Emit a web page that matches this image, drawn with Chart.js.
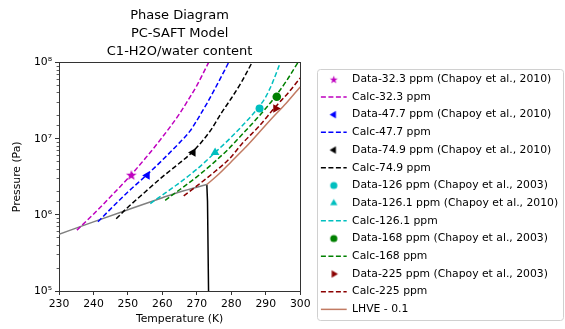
<!DOCTYPE html>
<html>
<head>
<meta charset="utf-8">
<script src="https://cdn.jsdelivr.net/npm/chart.js@4.4.1/dist/chart.umd.min.js"></script>
<style>
  html, body { margin: 0; padding: 0; background: #fff; }
</style>
</head>
<body>
<canvas id="myChart" width="565" height="329"></canvas>
<script>
// measured points (T in K, P in Pa)
const data32T = [251.0];
const data32P = [3.35e6];
const data47T = [255.6];
const data47P = [3.3e6];
const data74T = [268.9];
const data74P = [6.6e6];
const data126T = [288.2];
const data126P = [2.5e7];
const data1261T = [275.3];
const data1261P = [6.6e6];
const data168T = [293.2];
const data168P = [3.57e7];
const data225T = [292.9];
const data225P = [2.5e7];

// calculated curves
const calc32T = [235.2, 240, 245, 250, 255, 260, 265, 267.5, 270, 273.4];
const calc32P = [6.3e5, 1.02e6, 1.74e6, 3.02e6, 5.5e6, 1.05e7, 2.14e7, 3.24e7, 5.0e7, 1e8];
const calc47T = [241.3, 245, 250, 255.6, 260, 265, 268, 270, 273, 276, 279.2];
const calc47P = [8.1e5, 1.2e6, 2.0e6, 3.39e6, 5.25e6, 8.9e6, 1.26e7, 1.74e7, 2.95e7, 5.25e7, 1e8];
const calc74T = [246.6, 250, 255, 260, 265, 269, 274, 277, 279.7, 283, 286];
const calc74P = [8.9e5, 1.26e6, 2.0e6, 3.16e6, 4.8e6, 6.9e6, 1.29e7, 2.14e7, 3.24e7, 5.6e7, 1e8];
const calc126T = [256.5, 260, 264, 270, 275.3, 280, 284, 286, 288.2, 290, 292, 294.2];
const calc126P = [1.41e6, 1.82e6, 2.45e6, 3.98e6, 6.6e6, 1.05e7, 1.62e7, 2.04e7, 2.69e7, 3.55e7, 5.5e7, 1e8];
const calc168T = [260.8, 265, 270, 275, 279, 283, 287.9, 292.7, 296, 299.3];
const calc168P = [1.55e6, 2.14e6, 3.16e6, 4.9e6, 7.2e6, 1.12e7, 1.95e7, 3.55e7, 5.75e7, 1e8];
const calc225T = [266.2, 270, 275, 279.7, 283, 288, 292.8, 296.5, 300];
const calc225P = [1.78e6, 2.4e6, 3.63e6, 5.6e6, 8.5e6, 1.45e7, 2.63e7, 4.0e7, 6.3e7];
const lhveT = [272.9, 276, 280, 284, 288, 292, 296, 300];
const lhveP = [2.51e6, 3.31e6, 5.0e6, 7.6e6, 1.2e7, 1.9e7, 2.95e7, 4.8e7];
const greyT = [230, 240, 250, 260, 265, 272.9];
const greyP = [5.56e5, 8.1e5, 1.17e6, 1.68e6, 2.0e6, 2.51e6];
const iceT = [272.9, 273.1, 273.4];
const iceP = [2.51e6, 1.5e6, 1e5];

const xTicks = [230, 240, 250, 260, 270, 280, 290, 300];

const legendLabels = [
  'Data-32.3 ppm (Chapoy et al., 2010)', 'Calc-32.3 ppm',
  'Data-47.7 ppm (Chapoy et al., 2010)', 'Calc-47.7 ppm',
  'Data-74.9 ppm (Chapoy et al., 2010)', 'Calc-74.9 ppm',
  'Data-126 ppm (Chapoy et al., 2003)', 'Data-126.1 ppm (Chapoy et al., 2010)', 'Calc-126.1 ppm',
  'Data-168 ppm (Chapoy et al., 2003)', 'Calc-168 ppm',
  'Data-225 ppm (Chapoy et al., 2003)', 'Calc-225 ppm',
  'LHVE - 0.1'
];

const MAG = '#bf00bf', BLUE = '#0000ff', BLACK = '#000000', CYAN = '#00bfbf',
      GREEN = '#008000', DRED = '#8b0000', BROWN = '#c27b63', GREY = '#808080';
const DASH = [5, 2.5];

Chart.defaults.font.family = "'DejaVu Sans', sans-serif";
Chart.defaults.font.size = 10.8;
Chart.defaults.color = '#000';

function glyphCanvas(r) {
  const s = Math.ceil(r * 2 + 2);
  const c = document.createElement('canvas');
  c.width = s; c.height = s;
  return c;
}
function makeStar(r, color) {
  const c = glyphCanvas(r), s = c.width;
  const g = c.getContext('2d');
  g.fillStyle = color;
  g.beginPath();
  for (let i = 0; i < 10; i++) {
    const rr = i % 2 ? r * 0.4 : r;
    const a = -Math.PI / 2 + i * Math.PI / 5;
    g.lineTo(s / 2 + rr * Math.cos(a), s / 2 + 0.5 + rr * Math.sin(a));
  }
  g.closePath();
  g.fill();
  return c;
}
function makeDot(r, color) {
  const c = glyphCanvas(r), s = c.width;
  const g = c.getContext('2d');
  g.fillStyle = color;
  g.beginPath();
  g.arc(s / 2, s / 2, r, 0, Math.PI * 2);
  g.fill();
  return c;
}
function makeTri(r, color, rotDeg) {
  const c = glyphCanvas(r), s = c.width;
  const g = c.getContext('2d');
  g.fillStyle = color;
  g.beginPath();
  let a = rotDeg * Math.PI / 180;
  for (let i = 0; i < 3; i++) {
    g.lineTo(s / 2 + Math.sin(a) * r, s / 2 - Math.cos(a) * r);
    a += 2 * Math.PI / 3;
  }
  g.closePath();
  g.fill();
  return c;
}

const starPlot = makeStar(5.6, MAG);

function pts(xs, ys) {
  return xs.map((x, i) => ({ x: x, y: ys[i] }));
}
function markerSet(label, xs, ys, color, style, rot, radius) {
  return {
    label: label, data: pts(xs, ys), showLine: false,
    pointStyle: style, pointRotation: rot, pointRadius: radius,
    pointBackgroundColor: color, pointBorderColor: color, pointBorderWidth: 0
  };
}
function curveSet(label, xs, ys, color, dash, smooth) {
  return {
    label: label, data: pts(xs, ys), showLine: true,
    borderColor: color, backgroundColor: color, borderWidth: 1.5, borderDash: dash,
    pointRadius: 0, cubicInterpolationMode: smooth ? 'monotone' : 'default', fill: false
  };
}

const datasets = [
  markerSet(legendLabels[0], data32T, data32P, MAG, starPlot, 0, 5),
  curveSet(legendLabels[1], calc32T, calc32P, MAG, DASH, true),
  markerSet(legendLabels[2], data47T, data47P, BLUE, 'triangle', -90, 5),
  curveSet(legendLabels[3], calc47T, calc47P, BLUE, DASH, true),
  markerSet(legendLabels[4], data74T, data74P, BLACK, 'triangle', -90, 5),
  curveSet(legendLabels[5], calc74T, calc74P, BLACK, DASH, true),
  markerSet(legendLabels[6], data126T, data126P, CYAN, 'circle', 0, 4),
  markerSet(legendLabels[7], data1261T, data1261P, CYAN, 'triangle', 0, 5),
  curveSet(legendLabels[8], calc126T, calc126P, CYAN, DASH, true),
  markerSet(legendLabels[9], data168T, data168P, GREEN, 'circle', 0, 4.3),
  curveSet(legendLabels[10], calc168T, calc168P, GREEN, DASH, true),
  markerSet(legendLabels[11], data225T, data225P, DRED, 'triangle', 90, 5),
  curveSet(legendLabels[12], calc225T, calc225P, DRED, DASH, true),
  curveSet(legendLabels[13], lhveT, lhveP, BROWN, [], true),
  curveSet('grey', greyT, greyP, GREY, [], true),
  curveSet('ice', iceT, iceP, BLACK, [], false)
];

// legend glyphs, same colours and shapes as the datasets
const legendGlyphs = [
  { style: makeStar(4.2, MAG), color: MAG },
  { style: 'line', dash: true, color: MAG },
  { style: makeTri(4.2, BLUE, -90), color: BLUE },
  { style: 'line', dash: true, color: BLUE },
  { style: makeTri(4.2, BLACK, -90), color: BLACK },
  { style: 'line', dash: true, color: BLACK },
  { style: makeDot(3.6, CYAN), color: CYAN },
  { style: makeTri(4.2, CYAN, 0), color: CYAN },
  { style: 'line', dash: true, color: CYAN },
  { style: makeDot(3.6, GREEN), color: GREEN },
  { style: 'line', dash: true, color: GREEN },
  { style: makeTri(4.2, DRED, 90), color: DRED },
  { style: 'line', dash: true, color: DRED },
  { style: 'line', dash: false, color: BROWN }
];

const SUP = { 5: '\u2075', 6: '\u2076', 7: '\u2077', 8: '\u2078' };
function isDecade(v) {
  const e = Math.log10(v);
  return Math.abs(e - Math.round(e)) < 1e-9;
}
function isMinor(ctx) {
  return ctx.tick && !isDecade(ctx.tick.value);
}

const legendFrame = {
  id: 'legendFrame',
  afterDraw(chart) {
    const hb = chart.legend && chart.legend.legendHitBoxes;
    if (!hb || !hb.length) return;
    const first = hb[0], last = hb[hb.length - 1];
    const x0 = first.left - 3.5, y0 = first.top - 5;
    const x1 = chart.width - 2, y1 = last.top + last.height + 5.5;
    const ctx = chart.ctx;
    ctx.save();
    ctx.strokeStyle = '#d0d0d0';
    ctx.lineWidth = 1;
    ctx.beginPath();
    ctx.roundRect(Math.round(x0) + 0.5, Math.round(y0) + 0.5, Math.round(x1 - x0), Math.round(y1 - y0), 3);
    ctx.stroke();
    ctx.restore();
  }
};

new Chart(document.getElementById('myChart'), {
  type: 'scatter',
  data: { datasets: datasets },
  plugins: [legendFrame],
  options: {
    responsive: false,
    animation: false,
    devicePixelRatio: 1,
    layout: { padding: 0 },
    plugins: {
      tooltip: { enabled: false },
      title: {
        display: true,
        fullSize: false,
        text: ['Phase Diagram', 'PC-SAFT Model', 'C1-H2O/water content'],
        color: '#000',
        font: { size: 13, weight: 'normal', lineHeight: 1.35 },
        padding: { top: 7.25, bottom: 2.75 }
      },
      legend: {
        position: 'right',
        align: 'start',
        maxWidth: 251,
        title: { display: true, text: '', padding: { top: 0, bottom: 54 } },
        labels: {
          usePointStyle: true,
          pointStyleWidth: 25.8,
          boxHeight: 6.4,
          padding: 6.9,
          color: '#000',
          font: { size: 10.8 },
          generateLabels: () => legendLabels.map((text, i) => {
            const g = legendGlyphs[i];
            const isLine = g.style === 'line';
            return {
              text: text,
              fillStyle: g.color,
              strokeStyle: g.color,
              fontColor: '#000',
              lineWidth: isLine ? 1.5 : 0,
              lineDash: g.dash ? DASH : [],
              pointStyle: g.style,
              rotation: 0,
              hidden: false,
              datasetIndex: i
            };
          })
        }
      }
    },
    scales: {
      x: {
        type: 'linear',
        min: 230,
        max: 300,
        afterBuildTicks: s => { s.ticks = xTicks.map(v => ({ value: v })); },
        afterFit: s => { s.height = 38; },
        ticks: { padding: 3, color: '#000', font: { size: 10.8 } },
        title: { display: true, text: 'Temperature (K)', color: '#000', font: { size: 10.8 }, padding: { top: 0, bottom: 3 } },
        grid: { drawOnChartArea: false, drawTicks: true, tickLength: 4, tickColor: '#333' },
        border: { display: true, color: '#333', width: 1 }
      },
      y: {
        type: 'logarithmic',
        min: 1e5,
        max: 1e8,
        afterFit: s => { s.width = 59; },
        ticks: {
          autoSkip: false,
          padding: 3,
          color: '#000',
          font: { size: 10.8 },
          callback: v => isDecade(v) ? '10' + SUP[Math.round(Math.log10(v))] : ''
        },
        title: { display: true, text: 'Pressure (Pa)', color: '#000', font: { size: 10.8 }, padding: { top: 11, bottom: 0 } },
        grid: {
          drawOnChartArea: false, drawTicks: true, tickLength: 4, tickColor: '#333',
          tickWidth: ctx => isMinor(ctx) ? 0.8 : 1,
          tickBorderDash: ctx => isMinor(ctx) ? [0, 1.6, 10] : []
        },
        border: { display: true, color: '#333', width: 1 }
      },
      // plain frame on the top and right, like the reference axes box
      xt: {
        type: 'linear', position: 'top', display: true,
        afterFit: s => { s.height = 0; },
        ticks: { display: false },
        grid: { display: false, drawTicks: false },
        border: { display: true, color: '#333', width: 1 }
      },
      yr: {
        type: 'linear', position: 'right', display: true,
        afterFit: s => { s.width = 13.8; },
        ticks: { display: false },
        grid: { display: false, drawTicks: false },
        border: { display: true, color: '#333', width: 1 }
      }
    }
  }
});
</script>
</body>
</html>
